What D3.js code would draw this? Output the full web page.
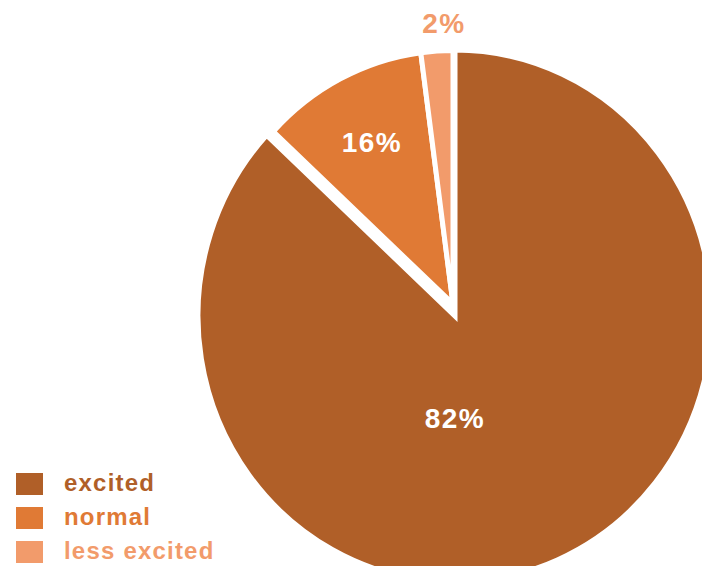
<!DOCTYPE html>
<html>
<head>
<meta charset="utf-8">
<script src="https://cdn.jsdelivr.net/npm/d3@7"></script>
<style>
  html, body { margin: 0; padding: 0; background: #fff; }
  svg { display: block; font-family: "Liberation Sans", Arial, Helvetica, sans-serif; font-weight: bold; }
</style>
</head>
<body>
<svg id="vis" width="702" height="566"></svg>
<script>
const categories = ["excited", "normal", "less excited"];
// slice sizes as drawn in the picture (the printed labels differ a bit)
const shares = [86.9, 11.0, 2.1];
const labels = ["82%", "16%", "2%"];
const colors = ["#b05f28", "#e07a35", "#f29b6b"];

const svg = d3.select("#vis");
const cx = 453, cy = 304, squash = 1.035;
const bigR = 257, smallR = 245;
const pull = [2, 12];

const data = categories.map((c, i) => ({name: c, share: shares[i], label: labels[i], color: colors[i]}));
const pie = d3.pie().sort(null).value(d => d.share);
const arcs = pie(data);

const arcBig = d3.arc().innerRadius(0).outerRadius(bigR);
const arcSmall = d3.arc().innerRadius(0).outerRadius(smallR);

const g = svg.append("g")
    .attr("transform", `translate(${cx},${cy}) scale(1,${squash})`);

g.selectAll("path").data(arcs)
    .join("path")
    .attr("d", d => d.index === 0 ? arcBig(d) : arcSmall(d))
    .attr("transform", d => d.index === 0 ? `translate(${pull[0]},${pull[1] / squash})` : null)
    .attr("fill", d => d.data.color)
    .attr("stroke", "#fff")
    .attr("stroke-width", 5);

// label spot: big slice gets its label straight below the centre,
// tiny slice goes outside, the rest sit inside on the mid angle
const labelSpot = d => {
    const span = d.endAngle - d.startAngle;
    const mid = (d.startAngle + d.endAngle) / 2;
    let a, r, off = [0, 0];
    if (span > Math.PI) { a = Math.PI; r = 0.385 * bigR; off = pull; }
    else if (d.data.share < 5) { a = (mid + d.endAngle) / 2; r = smallR + 27; }
    else { a = mid; r = 0.72 * smallR; }
    const p = d3.pointRadial(a, r);
    return [cx + p[0] + off[0], cy + p[1] * squash + off[1]];
};

svg.append("g").selectAll("text").data(arcs)
    .join("text")
    .attr("x", d => labelSpot(d)[0])
    .attr("y", d => labelSpot(d)[1])
    .attr("dy", "0.36em")
    .attr("text-anchor", "middle")
    .attr("font-size", 28)
    .attr("letter-spacing", 1.5)
    .attr("fill", d => d.data.share < 5 ? d.data.color : "#fff")
    .text(d => d.data.label);

const legend = svg.append("g").selectAll("g").data(data)
    .join("g")
    .attr("transform", (d, i) => `translate(16,${473 + i * 34})`);

legend.append("rect")
    .attr("width", 27)
    .attr("height", 22)
    .attr("fill", d => d.color);

legend.append("text")
    .attr("x", 48)
    .attr("y", 18)
    .attr("font-size", 24)
    .attr("letter-spacing", 1.2)
    .attr("fill", d => d.color)
    .text(d => d.name);
</script>
</body>
</html>
